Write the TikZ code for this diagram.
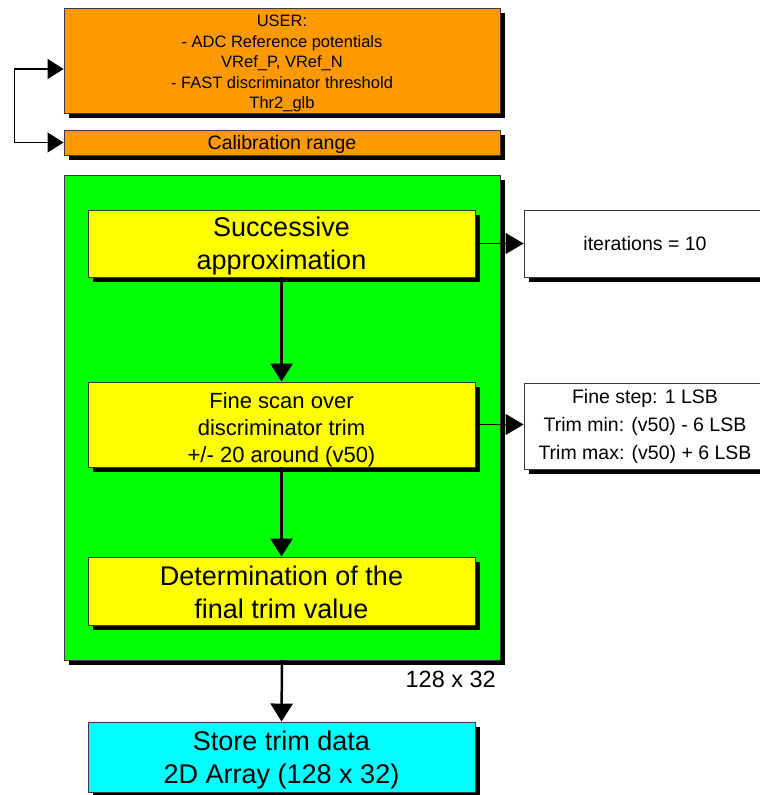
\documentclass[tikz,border=0pt]{standalone}
\usepackage{fontspec}
\setmainfont{Liberation Sans}
\usetikzlibrary{arrows.meta,shadows}
\definecolor{userorange}{RGB}{255,153,0}
\definecolor{loopgreen}{RGB}{0,255,0}
\definecolor{stepyellow}{RGB}{255,255,0}
\definecolor{storecyan}{RGB}{0,255,255}
\definecolor{edgegray}{RGB}{60,60,60}
\tikzset{
  shadowbox/.style={draw=edgegray, line width=0.9pt, inner sep=0pt, align=center,
    drop shadow={shadow xshift=5pt, shadow yshift=-5pt, opacity=1, fill=black}},
  boxtext/.style={align=center, inner sep=0pt},
  bigtext/.style={font=\fontsize{27}{33}\selectfont},
  flow/.style={line width=2.5pt, -{Triangle[length=18pt,width=22pt]}},
  sidelink/.style={line width=1.4pt, -{Triangle[length=18pt,width=21pt]}},
  feedback/.style={line width=1.1pt, {Triangle[length=16pt,width=20pt]}-{Triangle[length=16pt,width=20pt]}},
}
\begin{document}
\begin{tikzpicture}[x=1pt,y=-1pt]
\useasboundingbox (0,0) rectangle (760,795);
\clip (0,0) rectangle (760,795);

% user input block
\node[shadowbox, fill=userorange, minimum width=436pt, minimum height=105pt,
      label={[boxtext, font=\fontsize{16.5}{20.5}\selectfont, yshift=-3pt]center:{USER:\\- ADC Reference potentials\\VRef\_P, VRef\_N\\- FAST discriminator threshold\\Thr2\_glb}}]
  (user) at (282,60.5) {};
\node[shadowbox, fill=userorange, minimum width=436pt, minimum height=25pt,
      label={[boxtext, font=\fontsize{19.5}{22}\selectfont, yshift=-2pt]center:{Calibration range}}]
  (cal) at (282,142.5) {};
\draw[feedback] ([yshift=-8.5pt]user.west) -- ++(-49,0) |- (cal.west);

% per-pixel loop
\node[shadowbox, fill=loopgreen, minimum width=436pt, minimum height=485pt] (loop) at (282,417.5) {};
\node[shadowbox, fill=stepyellow, minimum width=387pt, minimum height=67pt,
      label={[boxtext, bigtext, yshift=-3pt]center:{Successive\\approximation}}]
  (succ) at (281.5,243.5) {};
\node[shadowbox, fill=stepyellow, minimum width=387pt, minimum height=85pt,
      label={[boxtext, font=\fontsize{22}{27}\selectfont, yshift=-5pt]center:{Fine scan over\\discriminator trim\\+/- 20 around (v50)}}]
  (fine) at (281.5,424.5) {};
\node[shadowbox, fill=stepyellow, minimum width=387pt, minimum height=68pt,
      label={[boxtext, bigtext, yshift=-1.5pt]center:{Determination of the\\final trim value}}]
  (det) at (281.5,591) {};
\node[anchor=east, inner sep=0pt, font=\fontsize{23.5}{26}\selectfont] (count) at (496,679) {128 x 32};

% parameter boxes
\node[shadowbox, fill=white, minimum width=242pt, minimum height=67pt,
      font=\fontsize{19.5}{22}\selectfont] (iter) at (645,243.5) {iterations = 10};
\node[shadowbox, fill=white, minimum width=242pt, minimum height=86pt,
      font=\fontsize{19.5}{28}\selectfont] (steps) at (645,426)
  {Fine step: 1 LSB\\Trim min: (v50) - 6 LSB\\Trim max: (v50) + 6 LSB};

% result
\node[shadowbox, fill=storecyan, minimum width=387pt, minimum height=70pt,
      label={[boxtext, bigtext, yshift=-3pt]center:{Store trim data\\2D Array (128 x 32)}}]
  (store) at (281.5,757) {};

% connectors
\draw[flow] (succ.south) -- (fine.north);
\draw[flow] (fine.south) -- (det.north);
\draw[flow] (loop.south) -- (store.north);
\draw[sidelink] (succ.east) -- (iter.west);
\draw[sidelink] (fine.east) -- (fine.east -| steps.west);
\end{tikzpicture}
\end{document}
